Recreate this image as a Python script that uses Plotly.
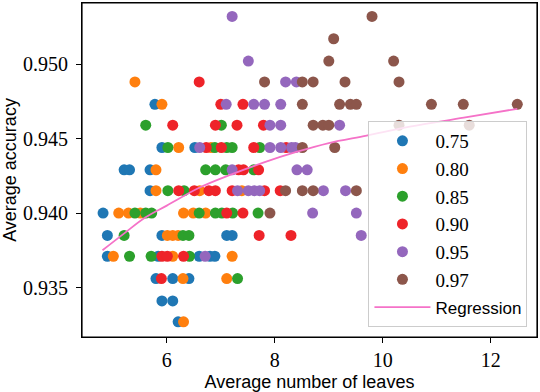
import plotly.graph_objects as go

# accuracy levels
series_names = ["0.75", "0.80", "0.85", "0.90", "0.95", "0.97"]
series_colors = ["#1f77b4", "#ff7f0e", "#2ca02c", "#ee2329", "#9467bd", "#8c564b"]

x_075 = [5.78, 5.91, 6.52, 5.21, 5.31, 5.69, 5.69, 4.82, 4.90, 5.91, 7.11, 7.21, 4.90, 5.84, 6.60, 6.80, 6.89, 5.80, 6.11, 6.41, 5.91, 6.11, 6.21]
y_075 = [0.9473, 0.9444, 0.9444, 0.9429, 0.9429, 0.9429, 0.9415, 0.9400, 0.9385, 0.9385, 0.9385, 0.9385, 0.9371, 0.9371, 0.9371, 0.9371, 0.9371, 0.9356, 0.9356, 0.9356, 0.9341, 0.9341, 0.9327]

x_080 = [5.41, 5.91, 6.22, 6.82, 5.80, 5.80, 6.61, 7.39, 5.11, 5.29, 5.51, 6.31, 6.49, 6.72, 6.01, 6.11, 6.21, 5.01, 6.11, 7.21, 6.30, 7.11, 6.31]
y_080 = [0.9488, 0.9473, 0.9444, 0.9444, 0.9429, 0.9415, 0.9415, 0.9415, 0.9400, 0.9400, 0.9400, 0.9400, 0.9400, 0.9400, 0.9385, 0.9385, 0.9385, 0.9371, 0.9371, 0.9371, 0.9356, 0.9356, 0.9327]

x_085 = [5.61, 7.01, 6.02, 6.89, 7.11, 7.21, 7.72, 6.72, 6.90, 7.09, 7.61, 6.02, 6.32, 5.41, 5.61, 5.72, 6.60, 6.90, 7.02, 7.22, 7.69, 5.21, 6.30, 6.41, 5.31, 5.71, 6.42, 7.31]
y_085 = [0.9459, 0.9459, 0.9444, 0.9444, 0.9444, 0.9444, 0.9444, 0.9429, 0.9429, 0.9429, 0.9429, 0.9415, 0.9415, 0.9400, 0.9400, 0.9400, 0.9400, 0.9400, 0.9400, 0.9400, 0.9400, 0.9385, 0.9385, 0.9385, 0.9371, 0.9371, 0.9371, 0.9356]

x_090 = [6.60, 7.00, 7.41, 6.11, 6.90, 7.30, 7.79, 6.73, 7.01, 7.61, 8.21, 7.33, 7.42, 7.70, 6.22, 6.51, 6.78, 6.90, 7.21, 7.81, 8.10, 7.11, 7.41, 7.71, 8.30, 5.91, 6.01, 6.31, 5.90]
y_090 = [0.9488, 0.9473, 0.9473, 0.9459, 0.9459, 0.9459, 0.9459, 0.9444, 0.9444, 0.9444, 0.9444, 0.9429, 0.9429, 0.9429, 0.9415, 0.9415, 0.9415, 0.9415, 0.9415, 0.9415, 0.9415, 0.9400, 0.9400, 0.9385, 0.9385, 0.9371, 0.9371, 0.9371, 0.9356]

x_095 = [7.21, 7.51, 8.20, 8.40, 7.10, 7.61, 7.81, 8.11, 7.91, 8.11, 9.20, 6.61, 7.91, 8.11, 8.31, 8.38, 7.21, 8.41, 8.60, 7.31, 7.51, 7.62, 7.72, 8.90, 9.31, 8.70, 9.51, 9.60, 6.71]
y_095 = [0.9532, 0.9502, 0.9488, 0.9488, 0.9473, 0.9473, 0.9473, 0.9473, 0.9459, 0.9459, 0.9459, 0.9444, 0.9444, 0.9444, 0.9444, 0.9444, 0.9429, 0.9429, 0.9429, 0.9415, 0.9415, 0.9415, 0.9415, 0.9415, 0.9415, 0.9400, 0.9400, 0.9385, 0.9371]

x_097 = [9.80, 9.09, 9.00, 10.20, 7.81, 8.51, 8.71, 9.30, 10.30, 8.51, 9.20, 9.40, 9.51, 10.90, 11.49, 12.49, 8.71, 8.89, 9.00, 10.30, 11.60, 8.51, 9.11, 8.20, 8.51, 8.71, 9.51, 7.91]
y_097 = [0.9532, 0.9517, 0.9502, 0.9502, 0.9488, 0.9488, 0.9488, 0.9488, 0.9488, 0.9473, 0.9473, 0.9473, 0.9473, 0.9473, 0.9473, 0.9473, 0.9459, 0.9459, 0.9459, 0.9459, 0.9459, 0.9444, 0.9444, 0.9415, 0.9415, 0.9415, 0.9415, 0.9400]

# regression curve, points
reg_x = [4.81, 5.2, 5.6, 6.0, 6.6, 7.2, 7.8, 8.4, 9.0, 9.7, 10.5, 11.5, 12.49]
reg_y = [0.9375, 0.9386, 0.9397, 0.9405, 0.9417, 0.9426, 0.9434, 0.9441, 0.9447, 0.9452, 0.9458, 0.9464, 0.9470]

x_ticks = [6, 8, 10, 12]
y_ticks = [0.935, 0.940, 0.945, 0.950]

xs = [x_075, x_080, x_085, x_090, x_095, x_097]
ys = [y_075, y_080, y_085, y_090, y_095, y_097]

SERIF = "Liberation Serif"
SANS = "Liberation Sans"

fig = go.Figure()
for name, color, xv, yv in zip(series_names, series_colors, xs, ys):
    fig.add_trace(go.Scatter(
        x=xv, y=yv, mode="markers", name=name,
        marker=dict(color=color, size=11, line=dict(width=0)),
    ))
fig.add_trace(go.Scatter(
    x=reg_x, y=reg_y, mode="lines",
    name=f'<span style="font-family:{SANS};font-size:17px">Regression</span>',
    line=dict(color="#f572c8", width=1.8, shape="spline", smoothing=1.0),
))

axis_common = dict(
    showline=True, linecolor="black", linewidth=1.2, mirror=True,
    ticks="outside", ticklen=5, tickcolor="black", tickwidth=1,
    showgrid=False, zeroline=False,
    tickfont=dict(family=SERIF, size=20, color="black"),
)

fig.update_layout(
    width=540, height=392,
    margin=dict(l=82, r=2, t=2, b=51),
    paper_bgcolor="white", plot_bgcolor="white",
    xaxis=dict(range=[4.43, 12.855], tickvals=x_ticks, ticktext=[str(t) for t in x_ticks],
               title=dict(text="Average number of leaves", font=dict(family=SANS, size=18, color="black"), standoff=6),
               **axis_common),
    yaxis=dict(range=[0.93168, 0.9541], tickvals=y_ticks, ticktext=[f"{t:.3f}" for t in y_ticks],
               ticklabelstandoff=4,
               title=dict(text="Average accuracy", font=dict(family=SANS, size=18, color="black"), standoff=4),
               **axis_common),
    legend=dict(
        x=0.979, y=0.03, xanchor="right", yanchor="bottom",
        bgcolor="rgba(255,255,255,0.8)", bordercolor="#cccccc", borderwidth=1,
        font=dict(family=SERIF, size=19, color="black"),
        itemwidth=56,
    ),
    shapes=[dict(type="rect", xref="paper", yref="paper", x0=0, x1=1, y0=0, y1=1,
                 line=dict(color="black", width=1.2), fillcolor="rgba(0,0,0,0)", layer="above")],
    showlegend=True,
)

fig.write_html("out.html", config={"displayModeBar": False},
               post_script="document.body.style.margin='0';document.body.style.overflow='hidden';")
